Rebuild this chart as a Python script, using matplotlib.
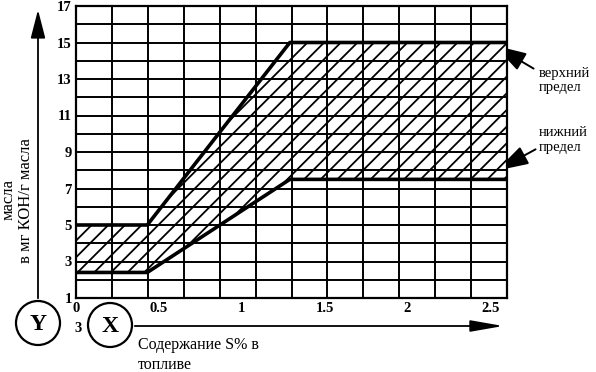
import numpy as np
import matplotlib
matplotlib.use("Agg")
import matplotlib.pyplot as plt
from matplotlib.patches import Circle, FancyArrowPatch

# данные диаграммы: содержание серы в топливе и пределы кислотного числа
s_pct = [0.0, 0.43, 1.29, 2.6]
upper = [5.0, 5.0, 15.0, 15.0]
lower = [2.4, 2.4, 7.5, 7.5]

x_ticks = [0, 0.5, 1, 1.5, 2, 2.5]
x_labels = ["0", "0.5", "1", "1.5", "2", "2.5"]
y_ticks = [1, 3, 5, 7, 9, 11, 13, 15, 17]
y_labels = ["1", "3", "5", "7", "9", "11", "13", "15", "17"]

serif = "Liberation Serif"
plt.rcParams["hatch.linewidth"] = 1.3

fig = plt.figure(figsize=(5.96, 3.72), dpi=100)
ax = fig.add_axes([76 / 596, 1 - 298 / 372, 431 / 596, 292 / 372])
ax.set_xlim(0, 2.6)
ax.set_ylim(1, 17)

# сетка: 12 колонок, 16 строк
for gx in np.linspace(0, 2.6, 13):
    ax.axvline(gx, color="black", lw=1.4, zorder=1)
for gy in range(1, 18):
    ax.axhline(gy, color="black", lw=1.4, zorder=1)

# заштрихованная область между пределами
ax.fill_between(s_pct, lower, upper, facecolor="none", edgecolor="black",
                hatch="//", linewidth=0, zorder=2)
ax.plot(s_pct, upper, color="black", lw=2.6, zorder=3, solid_capstyle="butt")
ax.plot(s_pct, lower, color="black", lw=2.6, zorder=3, solid_capstyle="butt")

ax.set_xticks(x_ticks)
ax.set_xticklabels(x_labels)
ax.set_yticks(y_ticks)
ax.set_yticklabels(y_labels)
ax.tick_params(length=0, pad=3)
for lab in ax.get_xticklabels() + ax.get_yticklabels():
    lab.set_fontfamily(serif)
    lab.set_fontweight("bold")
    lab.set_fontsize(10.5)
for sp in ax.spines.values():
    sp.set_linewidth(1.6)

# наложение в пиксельных координатах для стрелок, кругов и подписей
ov = fig.add_axes([0, 0, 1, 1], zorder=-1)
ov.set_xlim(0, 596)
ov.set_ylim(372, 0)
ov.axis("off")

ov.add_patch(FancyArrowPatch((38, 301), (38, 7), arrowstyle="-|>,head_length=7,head_width=1.8",
                             mutation_scale=2.5, color="black", lw=1.3))
ov.add_patch(FancyArrowPatch((132, 326), (506, 326), arrowstyle="-|>,head_length=8,head_width=1.4",
                             mutation_scale=2.5, color="black", lw=1.3))
ov.add_patch(Circle((38, 323), 22, facecolor="white", edgecolor="black", lw=1.6))
ov.add_patch(Circle((110, 325), 22, facecolor="white", edgecolor="black", lw=1.6))
ov.text(38, 324, "Y", ha="center", va="center", fontsize=17, fontweight="bold", family=serif)
ov.text(110, 326, "X", ha="center", va="center", fontsize=17, fontweight="bold", family=serif)
ov.text(78, 328, "3", ha="center", va="center", fontsize=10.5, fontweight="bold", family=serif)

ov.text(9, 200, "масла", rotation=90, ha="center", va="center", fontsize=12, family=serif)
ov.text(26, 201, "в мг КОН/г масла", rotation=90, ha="center", va="center", fontsize=12, family=serif)
ov.text(138, 345, "Содержание S% в", ha="left", va="center", fontsize=11.5, family=serif)
ov.text(138, 365, "топливе", ha="left", va="center", fontsize=11.5, family=serif)

ov.text(539, 81, "верхний\nпредел", ha="left", va="center", fontsize=10.5, family=serif,
        linespacing=1.1)
ov.text(539, 140, "нижний\nпредел", ha="left", va="center", fontsize=10.5, family=serif,
        linespacing=1.1)
ov.add_patch(FancyArrowPatch((536, 70), (492, 44), arrowstyle="-|>,head_length=8,head_width=2.4",
                             mutation_scale=2.5, color="black", lw=1.4, zorder=5))
ov.add_patch(FancyArrowPatch((538, 148), (494, 172), arrowstyle="-|>,head_length=8,head_width=2.4",
                             mutation_scale=2.5, color="black", lw=1.4, zorder=5))

fig.savefig("out.png", dpi=100)
